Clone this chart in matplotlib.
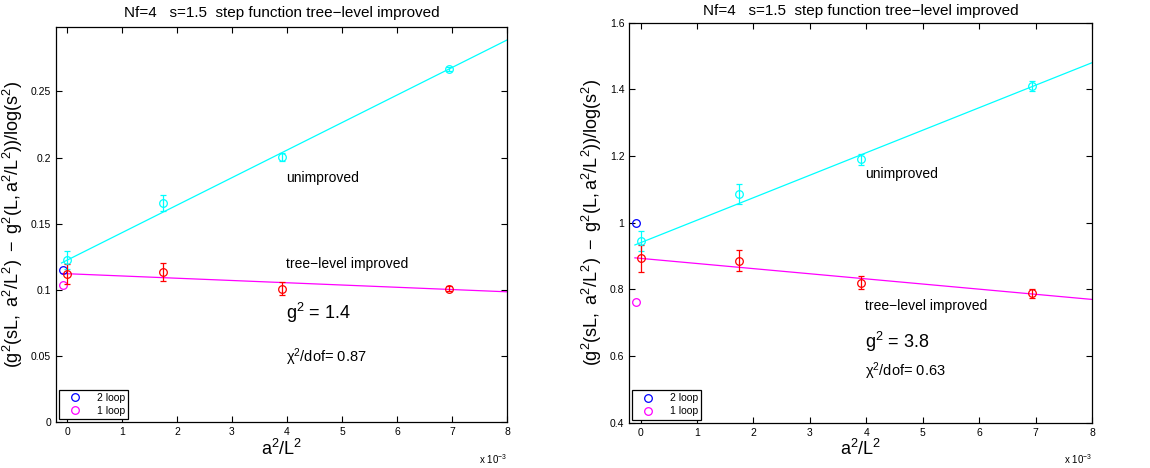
import numpy as np
import matplotlib.pyplot as plt

plt.rcParams['font.family'] = ['Liberation Sans', 'DejaVu Sans']
plt.rcParams['mathtext.fontset'] = 'custom'
plt.rcParams['mathtext.rm'] = 'Liberation Sans'
plt.rcParams['mathtext.it'] = 'Liberation Sans'

# a^2/L^2 values (0 = continuum extrapolation)
x_pts = [0.0, 0.00174, 0.00391, 0.00694]

# left panel (g^2 = 1.4)
l_unimp = [0.1225, 0.1654, 0.2004, 0.2673]
l_unimp_err = [0.007, 0.006, 0.003, 0.0015]
l_tree = [0.1123, 0.1136, 0.1009, 0.1009]
l_tree_err = [0.0075, 0.0065, 0.005, 0.002]
l_fit_unimp = (0.1225, 20.8)    # intercept, slope
l_fit_tree = (0.1123, -1.71)
l_loop2, l_loop1 = 0.1154, 0.1035

# right panel (g^2 = 3.8)
r_unimp = [0.944, 1.086, 1.190, 1.411]
r_unimp_err = [0.03, 0.031, 0.017, 0.015]
r_tree = [0.893, 0.886, 0.820, 0.788]
r_tree_err = [0.04, 0.032, 0.019, 0.013]
r_fit_unimp = (0.940, 67.5)
r_fit_tree = (0.893, -15.4)
r_loop2, r_loop1 = 1.0, 0.762

x_loop = -0.00008
x_line = np.array([-0.0001, 0.008])

cyan = '#00FFFF'
mag = '#FF00FF'

fig = plt.figure(figsize=(11.5, 4.68), dpi=100)

panels = [
    dict(rect=[0.0487, 0.0976, 0.3922, 0.8441], ylim=(0, 0.2985),
         yticks=[0, 0.05, 0.1, 0.15, 0.2, 0.25],
         ylabels=['0', '0.05', '0.1', '0.15', '0.2', '0.25'],
         unimp=l_unimp, unimp_err=l_unimp_err, tree=l_tree, tree_err=l_tree_err,
         fu=l_fit_unimp, ft=l_fit_tree, lp2=l_loop2, lp1=l_loop1, g2='1.4', chi='0.87',
         t_unimp=0.1844, t_tree=0.1197, t_g=0.083, t_chi=0.049, title_pad=7.5),
    dict(rect=[0.5472, 0.0968, 0.4024, 0.8547], ylim=(0.4, 1.6),
         yticks=[0.4, 0.6, 0.8, 1.0, 1.2, 1.4, 1.6],
         ylabels=['0.4', '0.6', '0.8', '1', '1.2', '1.4', '1.6'],
         unimp=r_unimp, unimp_err=r_unimp_err, tree=r_tree, tree_err=r_tree_err,
         fu=r_fit_unimp, ft=r_fit_tree, lp2=r_loop2, lp1=r_loop1, g2='3.8', chi='0.63',
         t_unimp=1.146, t_tree=0.749, t_g=0.641, t_chi=0.553, title_pad=5.5),
]

for p in panels:
    ax = fig.add_axes(p['rect'])
    # fit lines
    ax.plot(x_line, p['fu'][0] + p['fu'][1] * x_line, color=cyan, lw=0.9, zorder=2)
    ax.plot(x_line, p['ft'][0] + p['ft'][1] * x_line, color=mag, lw=0.9, zorder=2)
    # data with errors
    ax.errorbar(x_pts, p['unimp'], yerr=p['unimp_err'], fmt='o', mfc='none', mec=cyan,
                ecolor=cyan, ms=5.5, mew=0.9, elinewidth=0.9, capsize=2.5, capthick=0.9, zorder=3)
    ax.errorbar(x_pts, p['tree'], yerr=p['tree_err'], fmt='o', mfc='none', mec='red',
                ecolor='red', ms=5.5, mew=0.9, elinewidth=0.9, capsize=2.5, capthick=0.9, zorder=3)
    # perturbation theory
    ax.plot([x_loop], [p['lp2']], 'o', mfc='none', mec='blue', ms=5.5, mew=0.9, label='2 loop')
    ax.plot([x_loop], [p['lp1']], 'o', mfc='none', mec=mag, ms=5.5, mew=0.9, label='1 loop')

    ax.set_xlim(-0.0002, 0.008)
    ax.set_ylim(*p['ylim'])
    ax.set_xticks(np.arange(0, 0.0081, 0.001))
    ax.set_xticklabels([str(i) for i in range(9)])
    ax.set_yticks(p['yticks'])
    ax.set_yticklabels(p['ylabels'])
    ax.tick_params(direction='in', top=True, right=True, labelsize=7.5, length=4, width=0.8)
    for s in ax.spines.values():
        s.set_linewidth(0.9)

    ax.text(0.00398, p['t_unimp'], 'unimproved', fontsize=10, va='center')
    ax.text(0.00398, p['t_tree'], 'tree\u2212level improved', fontsize=10, va='center')
    ax.text(0.00398, p['t_g'], '$\\mathregular{g^2}$ = ' + p['g2'], fontsize=13, va='center')
    ax.text(0.00398, p['t_chi'], '$\\mathregular{\\chi^2}$/dof= ' + p['chi'], fontsize=10.5, va='center')

    ax.set_title('Nf=4   s=1.5  step function tree\u2212level improved', fontsize=11, pad=p['title_pad'])
    ax.set_xlabel('$\\mathregular{a^2/L^2}$', fontsize=13, labelpad=1)
    ax.set_ylabel('$\\mathregular{(g^2(sL,\\ a^2/L^2)\\ -\\ g^2(L,a^2/L^2))/log(s^2)}$', fontsize=13, labelpad=4)
    ax.text(1.0, -0.075, 'x $\\mathregular{10^{-3}}$', transform=ax.transAxes, fontsize=7,
            ha='right', va='top')

    leg = ax.legend(loc='lower left', fontsize=7.5, handletextpad=0.9, handlelength=2.4,
                    borderpad=0.3, labelspacing=0.3, fancybox=False, framealpha=1,
                    edgecolor='black', borderaxespad=0.3)
    leg.get_frame().set_linewidth(0.9)

fig.savefig('out.png', dpi=100)
